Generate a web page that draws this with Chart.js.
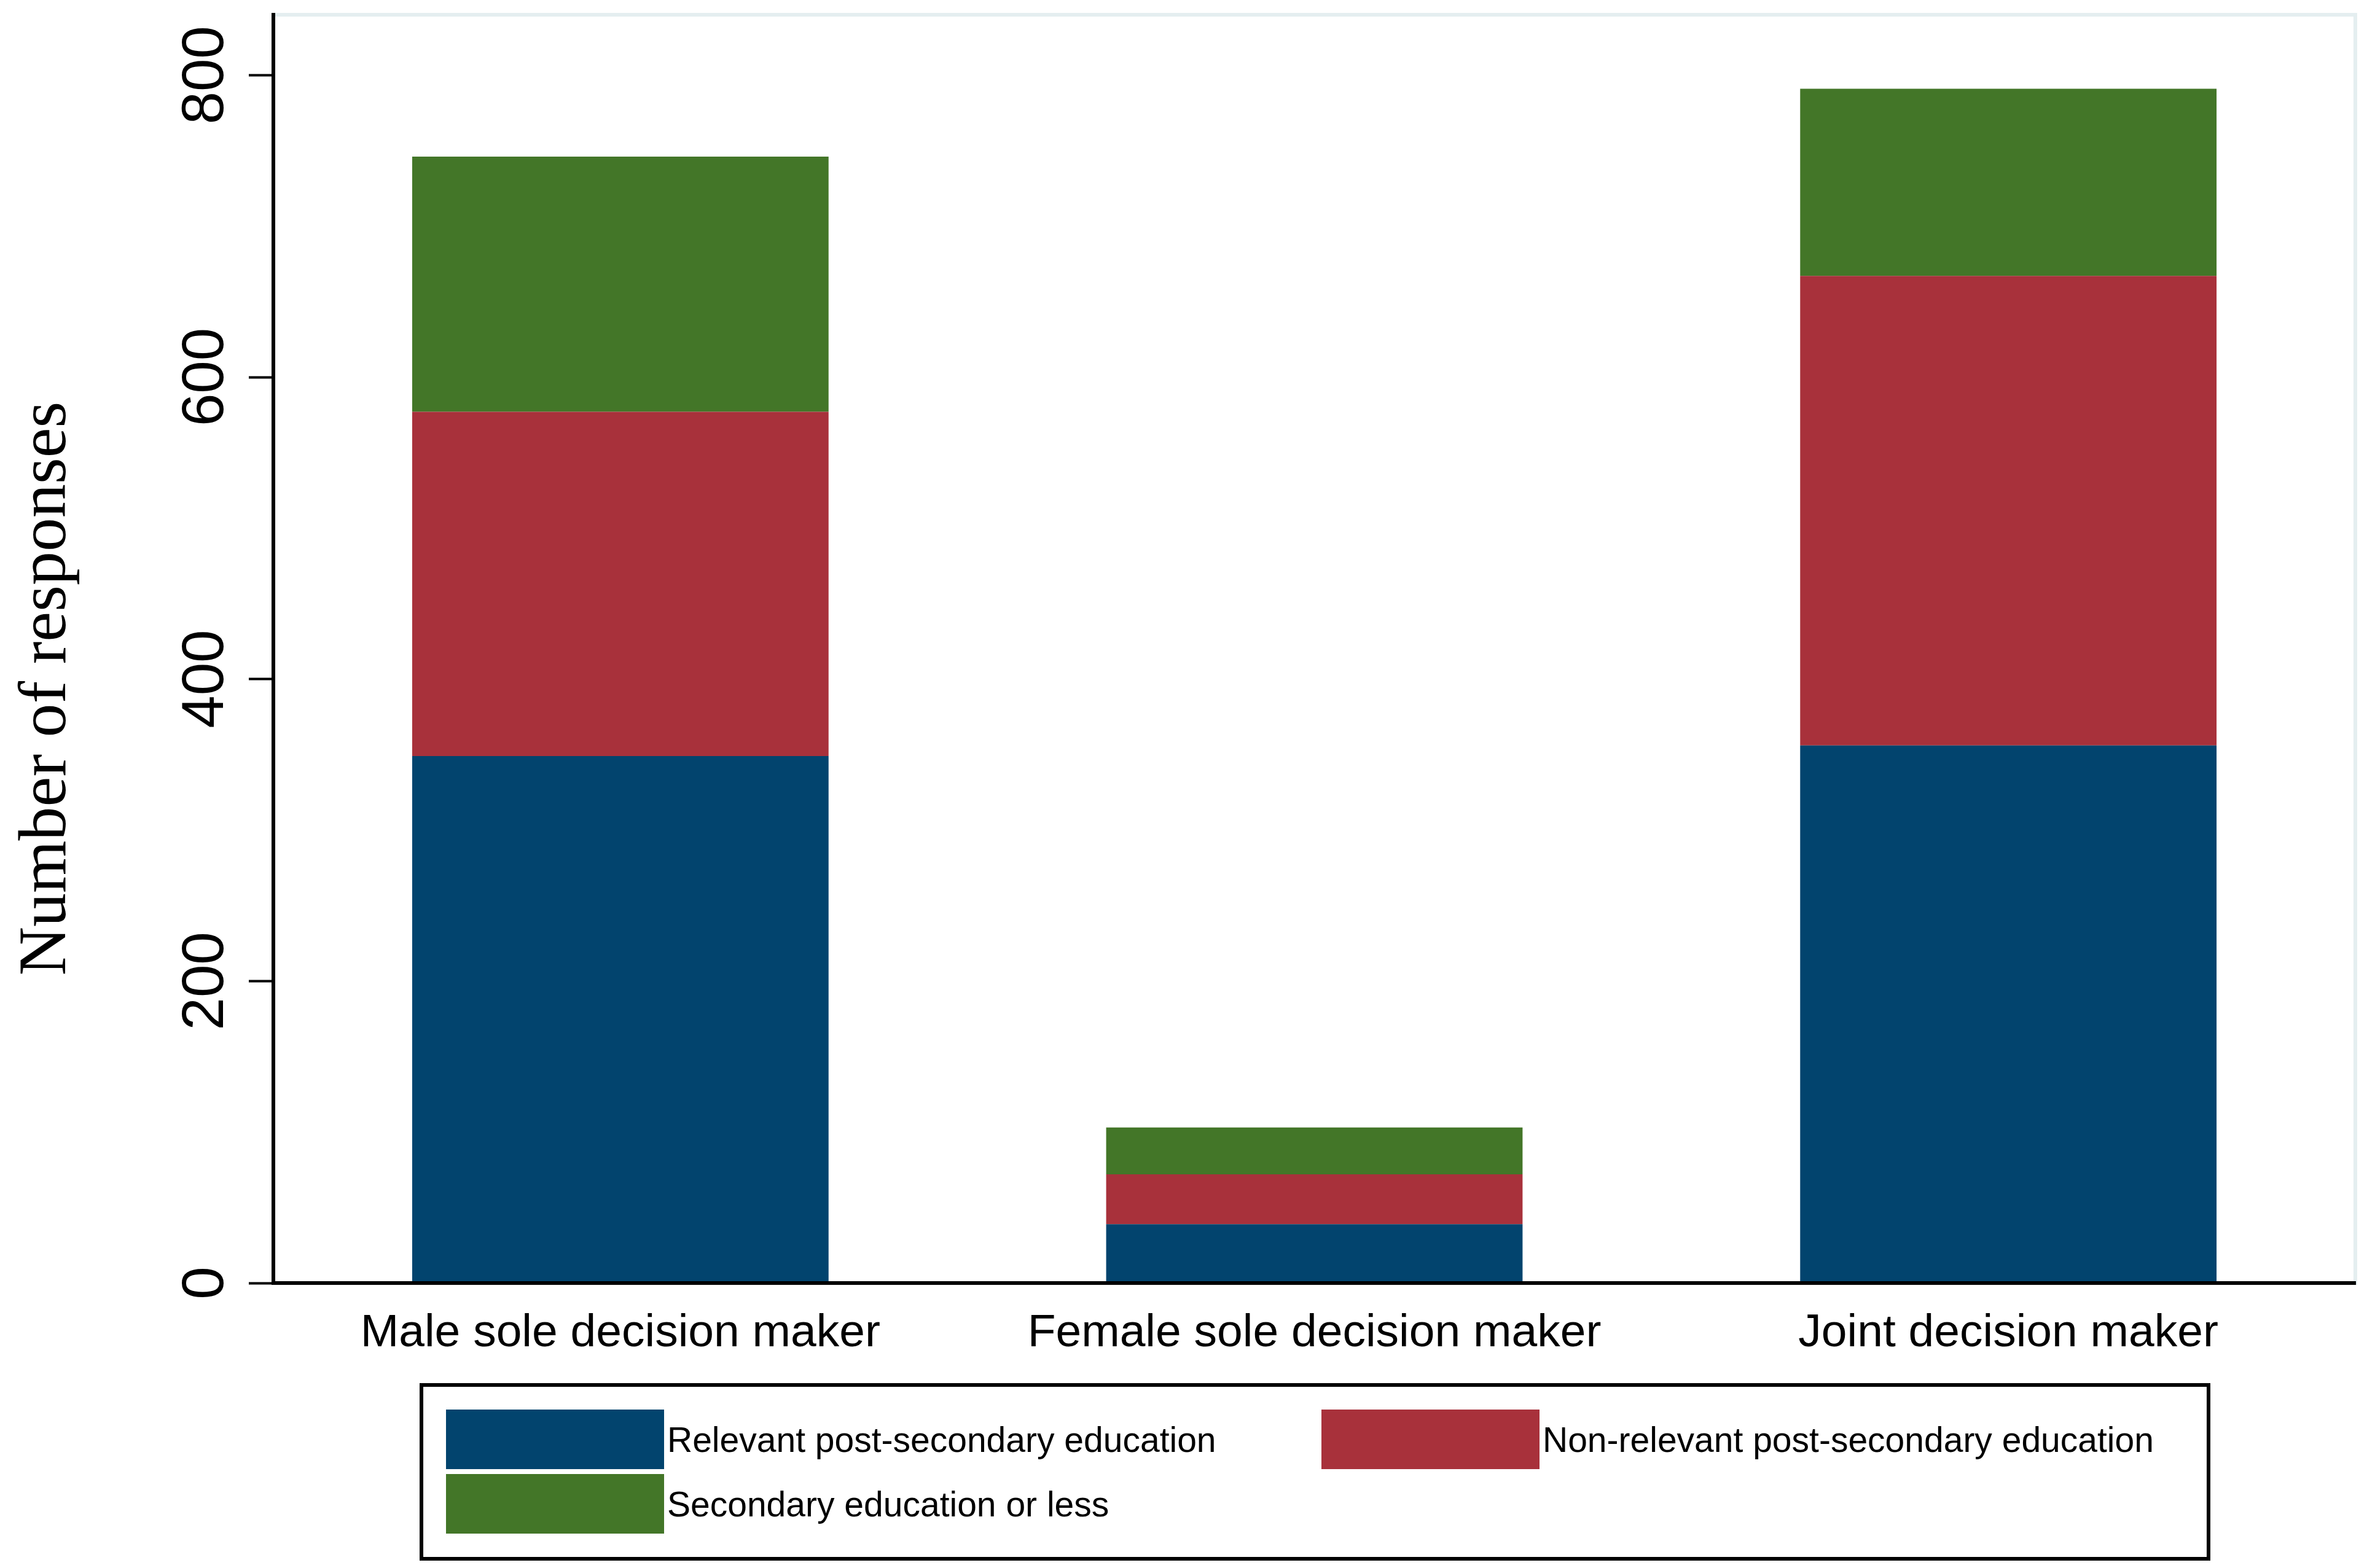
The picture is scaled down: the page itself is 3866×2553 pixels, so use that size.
<!DOCTYPE html>
<html>
<head>
<meta charset="utf-8">
<script src="https://cdn.jsdelivr.net/npm/chart.js@4/dist/chart.umd.min.js"></script>
<style>
  html, body { margin: 0; padding: 0; background: #ffffff; }
  canvas { display: block; }
</style>
</head>
<body>
<canvas id="c" width="3866" height="2553"></canvas>
<script>
// ---- data ----
const categories = ['Male sole decision maker', 'Female sole decision maker', 'Joint decision maker'];
const seriesLabels = ['Relevant post-secondary education', 'Non-relevant post-secondary education', 'Secondary education or less'];
const relevantPostSecondary = [349, 39, 356];
const nonRelevantPostSecondary = [228, 33, 311];
const secondaryOrLess = [169, 31, 124];
const yTickValues = [0, 200, 400, 600, 800];
const yAxisMax = 840;
const yAxisTitle = 'Number of responses';

// ---- styles ----
const seriesColors = ['#02446e', '#a8313b', '#437628'];
const SANS = '"Liberation Sans", Arial, sans-serif';
const SERIF = '"Liberation Serif", "Times New Roman", serif';

const decor = {
  id: 'decor',
  beforeDraw(chart) {
    const { ctx, chartArea: a } = chart;
    ctx.save();
    ctx.strokeStyle = '#e4eef0';
    ctx.lineWidth = 6;
    ctx.strokeRect(a.left, a.top, a.right - a.left, a.bottom - a.top);
    ctx.restore();
  },
  afterDraw(chart) {
    const ctx = chart.ctx;
    // y axis title
    ctx.save();
    ctx.fillStyle = '#000';
    ctx.font = '110px ' + SERIF;
    ctx.translate(106, 1121);
    ctx.rotate(-Math.PI / 2);
    ctx.textAlign = 'center';
    ctx.textBaseline = 'alphabetic';
    ctx.fillText(yAxisTitle, 0, 0);
    ctx.restore();

    // legend
    ctx.save();
    ctx.strokeStyle = '#000';
    ctx.lineWidth = 6;
    ctx.strokeRect(686, 2255, 2909, 283);
    ctx.font = '57px ' + SANS;
    ctx.textAlign = 'left';
    ctx.textBaseline = 'alphabetic';
    chart.data.datasets.forEach((ds, i) => {
      const col = i % 2, row = Math.floor(i / 2);
      const sx = 726 + col * 1425;
      const sy = 2295 + row * 105;
      ctx.fillStyle = ds.backgroundColor;
      ctx.fillRect(sx, sy, 355, 97);
      ctx.fillStyle = '#000';
      ctx.fillText(ds.label, sx + 360, sy + 48.5 + 20.5);
    });
    ctx.restore();
  }
};

const seriesValues = [relevantPostSecondary, nonRelevantPostSecondary, secondaryOrLess];

new Chart(document.getElementById('c'), {
  type: 'bar',
  data: {
    labels: categories,
    datasets: seriesValues.map((vals, i) => ({
      label: seriesLabels[i],
      data: vals,
      backgroundColor: seriesColors[i],
      borderWidth: 0,
      barPercentage: 0.6,
      categoryPercentage: 1.0
    }))
  },
  options: {
    responsive: false,
    devicePixelRatio: 1,
    animation: false,
    layout: { padding: { left: 0, top: 24, right: 32, bottom: 0 } },
    plugins: { legend: { display: false }, tooltip: { enabled: false } },
    scales: {
      x: {
        stacked: true,
        afterFit: s => { s.height = 2553 - 2089; s.paddingLeft = 0; s.paddingRight = 0; },
        grid: { display: false, drawTicks: false, tickLength: 0 },
        border: { display: true, color: '#000', width: 6, z: 1 },
        ticks: {
          padding: 37, maxRotation: 0, minRotation: 0, autoSkip: false,
          color: '#000', font: { family: SANS, size: 75 }
        }
      },
      y: {
        stacked: true,
        min: 0,
        max: yAxisMax,
        afterBuildTicks: s => { s.ticks = yTickValues.map(v => ({ value: v })); },
        afterFit: s => { s.width = 445; s.paddingTop = 0; s.paddingBottom = 0; },
        grid: { display: true, drawOnChartArea: false, drawTicks: true, tickLength: 40, tickWidth: 4, tickColor: '#000' },
        border: { display: true, color: '#000', width: 6, z: 1 },
        ticks: {
          minRotation: 90, maxRotation: 90, crossAlign: 'center', padding: -12,
          color: '#000', font: { family: SANS, size: 96 }
        }
      }
    }
  },
  plugins: [decor]
});
</script>
</body>
</html>
